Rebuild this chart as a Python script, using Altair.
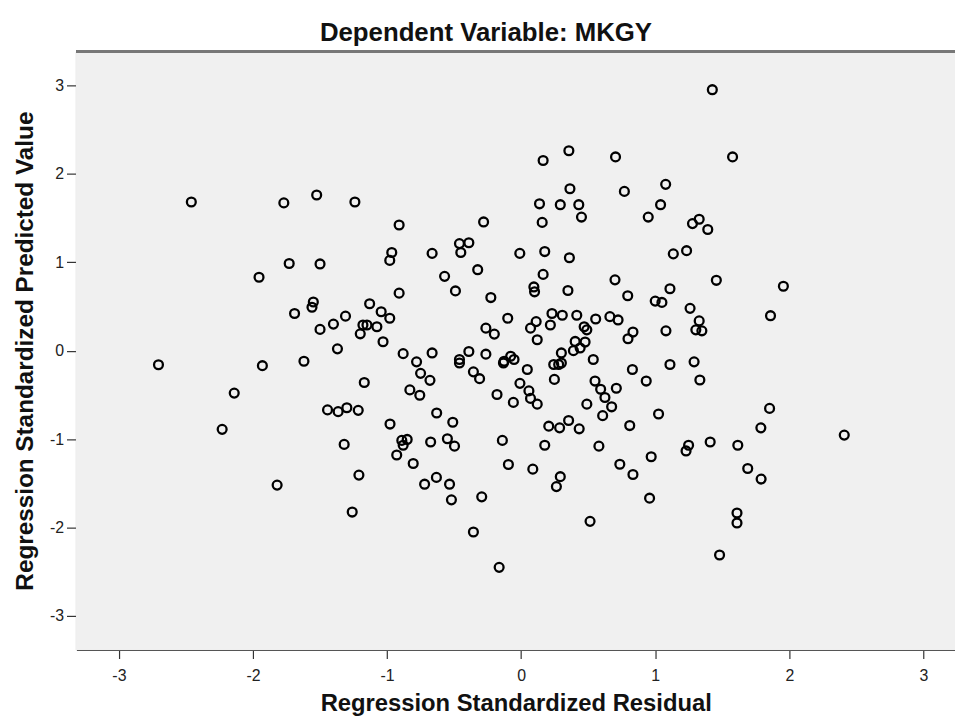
import altair as alt
import pandas as pd

# Regression Standardized Residual (x) and Regression Standardized Predicted Value (y)
residual = [
    -2.46, -1.77, -1.525, -1.24,
    0.164, 0.356, 0.704, 0.364, 0.77, 0.137, 0.292, 0.43, 0.45, 0.157, 0.948, 1.04,
    -0.91, -0.28, -0.46, -0.39, -0.45, -0.01, 0.176, 0.36,
    1.426, 1.577, 1.078, 1.278, 1.328, 1.392, 1.135, 1.234,
    -1.73, -1.50, -1.955, -1.55, -1.56, -1.69, -1.13, -1.31, -1.40, -1.50, -1.18, -1.15,
    -1.20, -1.37, -2.705, -1.93, -1.62, -1.17, -2.14, -1.444, -1.365, -1.30, -1.215, -2.23, -1.32,
    -0.965, -0.98, -0.664, -0.324, -0.571, 0.164, 0.095, 0.10, 0.349, 0.70, 0.795, 1.0, 1.05,
    -0.91, -0.49, -0.226, -1.044, -0.98, -1.076, -1.03, -0.10, -0.263, -0.20, 0.07, 0.112, 0.12,
    0.23, 0.218, 0.307, 0.415, 0.47, 0.49, 0.477, 0.403, 0.44, 0.39, 0.556, 0.662, 0.723,
    0.834, 0.797, 0.30, 0.243, 0.28, 0.30, 0.538, 0.248, -0.88, -0.664, -0.78, -0.75, -0.68,
    -0.83, -0.756, -0.46, -0.46, -0.39, -0.263, -0.356, -0.31, -0.127, -0.078, -0.053, -0.132,
    0.046, -0.009, 0.058, 0.07, 0.12, -0.058, -0.18, -0.63, -0.978, -0.51, -0.89, -0.85, -0.88,
    -0.675, -0.55, -0.497, -0.928, -0.14, 0.176, 0.206, 0.287, 0.354, 0.433, 0.49, 0.551,
    0.593, 0.625, 0.675, 0.608, 0.71, 0.83, 0.933, 0.81, 0.58, 1.025, 0.97,
    1.456, 1.956, 1.11, 1.26, 1.328, 1.303, 1.348, 1.86, 1.08, 1.11, 1.29, 1.333, 1.853,
    1.788, 2.41, 1.41, 1.249, 1.23, 1.616,
    -1.82, -1.21, -1.26,
    -0.805, -0.72, -0.632, -0.534, -0.52, -0.294, -0.356, -0.164, -0.095, 0.087, 0.292,
    0.263, 0.514, 0.736, 0.834, 0.958,
    1.69, 1.79, 1.61, 1.61, 1.48,
]
predicted = [
    1.68, 1.67, 1.76, 1.68,
    2.15, 2.26, 2.19, 1.83, 1.80, 1.66, 1.65, 1.65, 1.51, 1.45, 1.51, 1.65,
    1.42, 1.455, 1.21, 1.22, 1.11, 1.10, 1.12, 1.05,
    2.95, 2.19, 1.88, 1.436, 1.485, 1.37, 1.094, 1.13,
    0.985, 0.98, 0.83, 0.55, 0.49, 0.42, 0.53, 0.39, 0.30, 0.24, 0.29, 0.29,
    0.19, 0.02, -0.16, -0.17, -0.12, -0.36, -0.48, -0.67, -0.69, -0.646, -0.675, -0.89, -1.06,
    1.11, 1.02, 1.10, 0.915, 0.84, 0.862, 0.72, 0.665, 0.68, 0.80, 0.62, 0.56, 0.545,
    0.65, 0.675, 0.60, 0.44, 0.366, 0.27, 0.10, 0.366, 0.254, 0.187, 0.254, 0.328, 0.123,
    0.42, 0.29, 0.40, 0.40, 0.27, 0.235, 0.097, 0.104, 0.03, 0.0, 0.358, 0.384, 0.347,
    0.21, 0.134, -0.026, -0.157, -0.157, -0.14, -0.10, -0.325, -0.034, -0.026, -0.127, -0.257, -0.336,
    -0.444, -0.504, -0.10, -0.14, -0.01, -0.04, -0.24, -0.317, -0.12, -0.064, -0.10, -0.14,
    -0.213, -0.37, -0.455, -0.54, -0.605, -0.585, -0.496, -0.705, -0.83, -0.81, -1.015, -1.004, -1.07,
    -1.033, -0.996, -1.08, -1.18, -1.015, -1.07, -0.854, -0.873, -0.79, -0.884, -0.605, -0.344,
    -0.437, -0.53, -0.635, -0.735, -0.425, -0.213, -0.344, -0.847, -1.08, -0.716, -1.20,
    0.795, 0.728, 0.70, 0.478, 0.336, 0.235, 0.224, 0.395, 0.224, -0.157, -0.127, -0.332, -0.653,
    -0.873, -0.955, -1.033, -1.07, -1.134, -1.07,
    -1.52, -1.407, -1.825,
    -1.276, -1.51, -1.433, -1.51, -1.687, -1.653, -2.05, -2.45, -1.287, -1.34, -1.425,
    -1.537, -1.93, -1.284, -1.40, -1.668,
    -1.332, -1.452, -1.836, -1.948, -2.31,
]

tick_values = [-3, -2, -1, 0, 1, 2, 3]

df = pd.DataFrame({"residual": residual, "predicted": predicted})

FONT = "Liberation Sans"
W, H = 886, 603

x_enc = alt.X(
    "residual:Q",
    scale=alt.Scale(domain=[-3.317, 3.236], nice=False, zero=False),
    axis=alt.Axis(
        values=tick_values, labelExpr="'' + datum.value", title="Regression Standardized Residual",
        grid=False, domain=True, domainColor="#555555", domainWidth=2,
        tickSize=9, tickColor="#333333", tickWidth=1.2,
        labelFont=FONT, labelFontSize=16, labelColor="#222222", labelPadding=9,
        titleFont=FONT, titleFontSize=24, titleFontWeight="bold", titleColor="#111111",
        titlePadding=8,
    ),
)
y_enc = alt.Y(
    "predicted:Q",
    scale=alt.Scale(domain=[-3.38, 3.38], nice=False, zero=False),
    axis=alt.Axis(
        values=tick_values, labelExpr="'' + datum.value", title="Regression Standardized Predicted Value",
        grid=False, domain=True, domainColor="#777777", domainWidth=2,
        tickSize=10, tickColor="#333333", tickWidth=1.2,
        labelFont=FONT, labelFontSize=16, labelColor="#222222", labelPadding=3,
        titleFont=FONT, titleFontSize=24.5, titleFontWeight="bold", titleColor="#111111",
        titlePadding=12,
    ),
)

background = alt.Chart(df).mark_rect(color="#f0f0f0", opacity=1).encode(
    x=alt.value(0), x2=alt.value(W), y=alt.value(0), y2=alt.value(H)
)

top_line = alt.Chart(df).mark_rule(color="#777777", strokeWidth=2).encode(
    y=alt.value(0), x=alt.value(0), x2=alt.value(W)
)

points = alt.Chart(df).mark_point(
    shape="circle", filled=False, color="black", size=80, strokeWidth=2.3, opacity=1
).encode(x=x_enc, y=y_enc)

chart = alt.layer(background, top_line, points).properties(
    width=W, height=H,
    title=alt.TitleParams(
        "Dependent Variable: MKGY", font=FONT, fontSize=26, fontWeight="bold",
        color="#111111", dx=-30, offset=5, anchor="middle",
    ),
    padding={"left": 69, "top": 41, "right": 0, "bottom": 73},
    autosize="none",
).configure_view(fill="#f0f0f0", strokeWidth=0).configure(background="white")

chart.save("out.html", embed_options={"renderer": "svg", "actions": False})
